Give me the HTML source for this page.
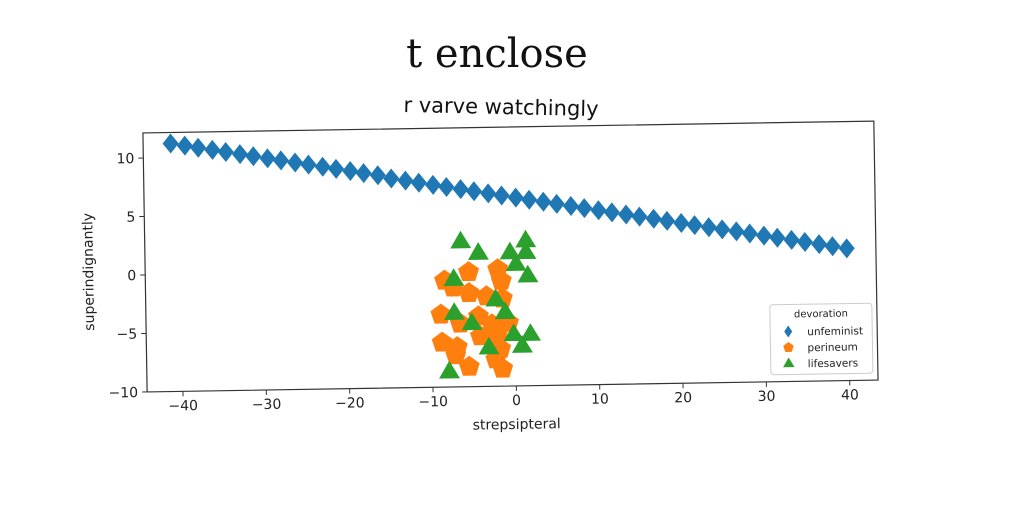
<!DOCTYPE html>
<html><head><meta charset="utf-8"><style>
html,body{margin:0;padding:0;background:#fff;width:1024px;height:512px;overflow:hidden}
svg text{font-family:"DejaVu Sans","Liberation Sans",sans-serif}
</style></head><body>
<svg id="chart" width="1024" height="512" viewBox="0 0 1024 512" xmlns="http://www.w3.org/2000/svg">
<text x="497" y="67" text-anchor="middle" font-size="40" style="font-family:'DejaVu Serif','Liberation Serif',serif" fill="#111">t enclose</text>
<text x="501" y="114" text-anchor="middle" font-size="21" fill="#111" transform="rotate(1.2 501 108)">r varve watchingly</text>
<g id="plot" transform="rotate(-0.93 511 258)"></g>
</svg>
<script>
const xUnf=[-41,-39.3,-37.7,-36,-34.4,-32.7,-31.1,-29.4,-27.8,-26.1,-24.5,-22.8,-21.2,-19.5,-17.9,-16.2,-14.6,-12.9,-11.3,-9.6,-8,-6.3,-4.7,-3,-1.4,0.3,1.9,3.6,5.2,6.9,8.5,10.2,11.8,13.5,15.1,16.8,18.4,20.1,21.7,23.4,25,26.7,28.3,30,31.6,33.3,34.9,36.6,38.2,39.9];
const yUnf=[11.2,11,10.8,10.6,10.4,10.2,10,9.8,9.6,9.4,9.2,9,8.8,8.6,8.4,8.2,7.9,7.7,7.5,7.3,7.1,6.9,6.7,6.5,6.3,6.1,5.9,5.7,5.5,5.3,5.1,4.9,4.7,4.5,4.3,4.1,3.9,3.7,3.5,3.3,3.1,2.9,2.7,2.5,2.3,2.1,1.9,1.7,1.5,1.3];
const xPer=[-8.4,-5.5,-7.4,-2,-1.6,-5.5,-3.4,-1.5,-8.9,-6.6,-4.4,-2.8,-0.8,-4.2,-2.2,-8.8,-7,-7.2,-1.8,-2.4,-5.6,-1.6];
const yPer=[-0.9,-0.2,-1.5,0,-1,-2,-2.3,-2.5,-3.8,-4.6,-4,-4.7,-4.6,-5.7,-5.7,-6.2,-6.6,-7.3,-6.8,-7.7,-8.3,-8.5];
const xLife=[-6.4,-4.3,1.4,-0.5,1.4,0.2,1.6,-7.3,-2.3,-1.2,-7.3,-5.2,-0.2,1.8,0.8,-3.2,-8];
const yLife=[2.4,1.4,2.4,1.4,1.4,0.4,-0.6,-0.8,-2.6,-3.7,-3.7,-4.6,-5.6,-5.6,-6.6,-6.7,-8.7];
const xTicks=[-40,-30,-20,-10,0,10,20,30,40];
const yTicks=[-10,-5,0,5,10];
const legendLabels=["unfeminist","perineum","lifesavers"];

const L=145,R=876,T=127,B=386,xmin=-44.3,xmax=43.4,ymin=-10,ymax=12.14;
const sx=v=>L+(v-xmin)/(xmax-xmin)*(R-L);
const sy=v=>B-(v-ymin)/(ymax-ymin)*(B-T);
const NS="http://www.w3.org/2000/svg";
const g=document.getElementById('plot');
function mk(tag,attrs,parent){const e=document.createElementNS(NS,tag);for(const k in attrs)e.setAttribute(k,attrs[k]);(parent||g).appendChild(e);return e;}
const frame=mk('rect',{x:L,y:T,width:R-L,height:B-T,fill:'none',stroke:'#333','stroke-width':1.2});


xTicks.forEach(t=>{
 const l=mk('line',{x1:sx(t),x2:sx(t),y1:B,y2:B+5,stroke:'#333'});
 
 
 const tx=mk('text',{x:sx(t),y:B+19,'text-anchor':'middle','font-size':14,fill:'#222'});
 tx.textContent=t<0?'\u2212'+(-t):t;
 
 
});
yTicks.forEach(t=>{
 const l=mk('line',{x1:L-5,x2:L,y1:sy(t),y2:sy(t),stroke:'#333'});
 
 
 const tx=mk('text',{x:L-9,y:sy(t)+5,'text-anchor':'end','font-size':14,fill:'#222'});
 tx.textContent=t<0?'\u2212'+(-t):t;
 
 
});
const xl=mk('text',{x:514,y:429,'text-anchor':'middle','font-size':14,fill:'#222'});
xl.textContent='strepsipteral';


const yl=mk('text',{x:93,y:265,'text-anchor':'middle','font-size':14,fill:'#222',transform:'rotate(-90 93 265)'});
yl.textContent='superindignantly';


function diamond(cx,cy,w,h){return `${cx},${cy-h} ${cx+w},${cy} ${cx},${cy+h} ${cx-w},${cy}`;}
function pent(cx,cy,r){let p=[];for(let i=0;i<5;i++){const a=-Math.PI/2+i*2*Math.PI/5;p.push((cx+r*Math.cos(a)).toFixed(1)+','+(cy+r*Math.sin(a)).toFixed(1));}return p.join(' ');}
function tri(cx,cy,r){return `${cx},${cy-r} ${cx+r*0.95},${cy+r*0.6} ${cx-r*0.95},${cy+r*0.6}`;}
xUnf.forEach((x,i)=>{
 const p=mk('polygon',{points:diamond(sx(x),sy(yUnf[i]),8,10),fill:'#1f77b4'});
 
 
});
xPer.forEach((x,i)=>{
 const p=mk('polygon',{points:pent(sx(x),sy(yPer[i]),11),fill:'#ff7f0e'});
 
 
});
xLife.forEach((x,i)=>{
 const p=mk('polygon',{points:tri(sx(x),sy(yLife[i]),11),fill:'#2ca02c'});
 
 
});
const lg=mk('g',{});


mk('rect',{x:769,y:309,width:102,height:70,rx:3,fill:'#fff','fill-opacity':0.85,stroke:'#ccc'},lg);
const lt=mk('text',{x:820,y:322,'text-anchor':'middle','font-size':10,fill:'#222'},lg);
lt.textContent='devoration';
const cols=['#1f77b4','#ff7f0e','#2ca02c'];
legendLabels.forEach((s,i)=>{
 const y=336+i*16;
 const shape=i==0?mk('polygon',{points:diamond(787,y,4,6),fill:cols[0]},lg):i==1?mk('polygon',{points:pent(787,y,5.5),fill:cols[1]},lg):mk('polygon',{points:tri(787,y,6),fill:cols[2]},lg);
 
 
 const t=mk('text',{x:806,y:y+4,'font-size':10.5,fill:'#222'},lg);
 t.textContent=s;
 
 
});
</script>
</body></html>
